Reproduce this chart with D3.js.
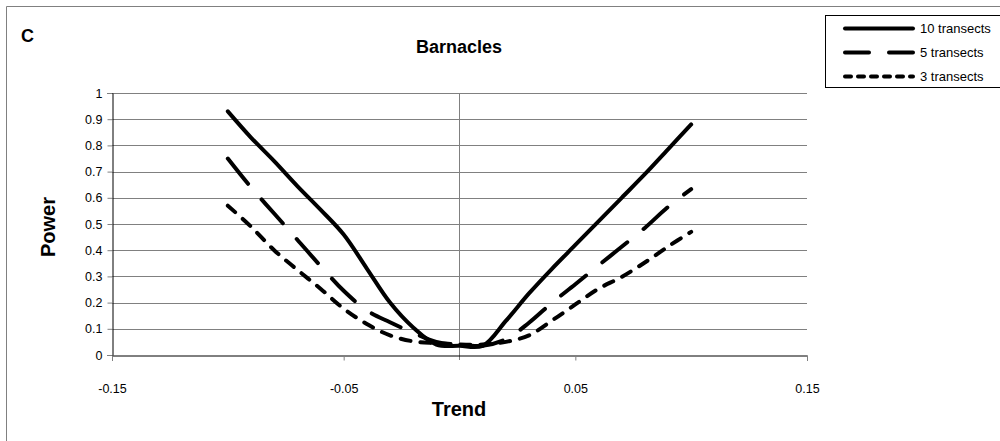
<!DOCTYPE html>
<html>
<head>
<meta charset="utf-8">
<script src="https://cdn.jsdelivr.net/npm/d3@7"></script>
<style>
  html, body { margin: 0; padding: 0; background: #fff; }
  svg { display: block; font-family: "Liberation Sans", Arial, sans-serif; }
</style>
</head>
<body>
<svg id="chart" width="1000" height="441"></svg>
<script>
// Trend values (x) and power for each sampling effort
const trend = [-0.1, -0.09, -0.08, -0.07, -0.06, -0.05, -0.04, -0.03, -0.02, -0.01, 0,
               0.01, 0.02, 0.03, 0.04, 0.05, 0.06, 0.07, 0.08, 0.09, 0.1];
const power10 = [0.93, 0.83, 0.74, 0.645, 0.555, 0.46, 0.33, 0.2, 0.105, 0.04, 0.035,
                 0.035, 0.13, 0.235, 0.33, 0.42, 0.51, 0.6, 0.69, 0.785, 0.88];
const power5 = [0.75, 0.64, 0.54, 0.44, 0.34, 0.245, 0.17, 0.125, 0.085, 0.05, 0.04,
                0.035, 0.06, 0.123, 0.2, 0.27, 0.342, 0.413, 0.485, 0.565, 0.633];
const power3 = [0.57, 0.49, 0.4, 0.325, 0.253, 0.177, 0.118, 0.075, 0.052, 0.045, 0.04,
                0.04, 0.05, 0.075, 0.132, 0.193, 0.253, 0.298, 0.353, 0.414, 0.47];

const seriesNames = ["10 transects", "5 transects", "3 transects"];
const xTicks = [-0.15, -0.05, 0.05, 0.15];
const yTicks = [0, 0.1, 0.2, 0.3, 0.4, 0.5, 0.6, 0.7, 0.8, 0.9, 1];

const svg = d3.select("#chart");

const x = d3.scaleLinear().domain([-0.15, 0.15]).range([112, 807]);
const y = d3.scaleLinear().domain([0, 1]).range([355, 93]);

// outer frame (top and left edges)
svg.append("path")
  .attr("d", "M6.5,441 V6.5 H1000")
  .attr("fill", "none").attr("stroke", "#808080").attr("stroke-width", 1);

// panel letter and title
svg.append("text").attr("x", 21).attr("y", 42)
  .attr("font-size", 18).attr("font-weight", "bold").text("C");
svg.append("text").attr("x", 459).attr("y", 53).attr("text-anchor", "middle")
  .attr("font-size", 18).attr("font-weight", "bold").text("Barnacles");

// horizontal gridlines
svg.append("g").selectAll("line")
  .data(yTicks.filter(d => d > 0))
  .join("line")
  .attr("x1", x(-0.15)).attr("x2", x(0.15))
  .attr("y1", d => Math.round(y(d)) + 0.5).attr("y2", d => Math.round(y(d)) + 0.5)
  .attr("stroke", "#808080").attr("stroke-width", 1);

// vertical reference line at zero trend
svg.append("line")
  .attr("x1", Math.round(x(0)) - 0.5).attr("x2", Math.round(x(0)) - 0.5)
  .attr("y1", y(1)).attr("y2", y(0) + 5)
  .attr("stroke", "#808080").attr("stroke-width", 1);

// y axis
const yAxis = d3.axisLeft(y).tickValues(yTicks).tickSize(5).tickPadding(5)
  .tickFormat(d => String(d));
const gy = svg.append("g").attr("transform", `translate(${x(-0.15) + 0.5},0)`).call(yAxis);
gy.select(".domain").attr("stroke", "#000");
gy.selectAll(".tick line").attr("stroke", "#808080");
gy.selectAll("text").attr("font-size", 12.5).attr("font-family", "Liberation Sans, Arial, sans-serif").attr("fill", "#000");

// x axis
const xAxis = d3.axisBottom(x).tickValues(xTicks).tickSize(5).tickPadding(24)
  .tickFormat(d => String(d));
const gx = svg.append("g").attr("transform", `translate(0,${Math.round(y(0)) + 0.5})`).call(xAxis);
gx.select(".domain").attr("stroke", "#000");
gx.selectAll(".tick line").attr("stroke", "#808080");
gx.selectAll("text").attr("font-size", 12.5).attr("font-family", "Liberation Sans, Arial, sans-serif").attr("fill", "#000");

// axis titles
svg.append("text").attr("x", 459).attr("y", 416).attr("text-anchor", "middle")
  .attr("font-size", 20).attr("font-weight", "bold").text("Trend");
svg.append("text").attr("transform", "translate(55,227) rotate(-90)")
  .attr("text-anchor", "middle").attr("font-size", 20).attr("font-weight", "bold").text("Power");

// series lines
const styles = [
  { values: power10, dash: null },
  { values: power5, dash: "32,21" },
  { values: power3, dash: "10,10" }
];
const line = d3.line()
  .x(d => x(d[0])).y(d => y(d[1]))
  .curve(d3.curveCatmullRom.alpha(0.5));

svg.append("g").selectAll("path")
  .data(styles)
  .join("path")
  .attr("d", s => line(trend.map((t, i) => [t, s.values[i]])))
  .attr("fill", "none").attr("stroke", "#000").attr("stroke-width", 4)
  .attr("stroke-linecap", "round").attr("stroke-linejoin", "round")
  .attr("stroke-dasharray", s => s.dash);

// legend
const legend = svg.append("g");
legend.append("rect").attr("x", 825.5).attr("y", 15.5).attr("width", 190).attr("height", 72)
  .attr("fill", "#fff").attr("stroke", "#000").attr("stroke-width", 1);
const legendDash = [null, "24,20", "6,7"];
const rows = legend.selectAll("g.row").data(seriesNames).join("g")
  .attr("class", "row")
  .attr("transform", (d, i) => `translate(0,${28.5 + i * 24})`);
rows.append("line").attr("x1", 845).attr("x2", 913).attr("y1", 0).attr("y2", 0)
  .attr("stroke", "#000").attr("stroke-width", 4).attr("stroke-linecap", "round")
  .attr("stroke-dasharray", (d, i) => legendDash[i]);
rows.append("text").attr("x", 920).attr("y", 4.5).attr("font-size", 13).text(d => d);
</script>
</body>
</html>
